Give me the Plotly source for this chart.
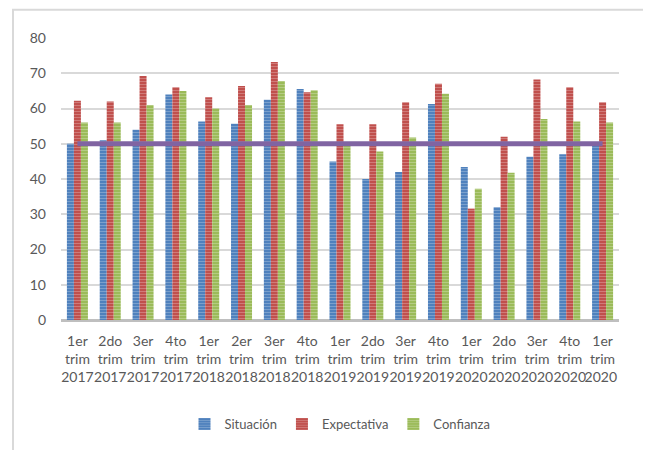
import plotly.graph_objects as go

categories = ["1er<br>trim<br>2017", "2do<br>trim<br>2017", "3er<br>trim<br>2017", "4to<br>trim<br>2017",
              "1er<br>trim<br>2018", "2er<br>trim<br>2018", "3er<br>trim<br>2018", "4to<br>trim<br>2018",
              "1er<br>trim<br>2019", "2do<br>trim<br>2019", "3er<br>trim<br>2019", "4to<br>trim<br>2019",
              "1er<br>trim<br>2020", "2do<br>trim<br>2020", "3er<br>trim<br>2020", "4to<br>trim<br>2020",
              "1er<br>trim<br>2020 "]
situacion = [50, 51, 54, 64, 56.3, 55.7, 62.5, 65.5, 45, 40, 42, 61.3, 43.4, 32, 46.3, 47, 49.7]
expectativa = [62.2, 62, 69.2, 66, 63.2, 66.4, 73.2, 64.6, 55.5, 55.5, 61.8, 67, 31.6, 52, 68.2, 66, 61.8]
confianza = [56, 56, 61, 65, 60, 61, 67.8, 65.2, 49.5, 47.8, 51.8, 64.2, 37.2, 41.8, 57, 56.3, 56]
threshold = [50] * len(categories)

font_fam = "Lato, 'Open Sans', sans-serif"
grey = "#595959"

fig = go.Figure()
for name, vals, col in [("Situación", situacion, "#4F81BD"),
                        ("Expectativa", expectativa, "#C0504D"),
                        ("Confianza", confianza, "#9BBB59")]:
    fig.add_trace(go.Bar(
        x=categories, y=vals, name=name,
        marker=dict(color=col, line=dict(width=0),
                    pattern=dict(shape="-", fgcolor="rgba(255,255,255,0.55)", size=3, solidity=0.3)),
    ))
fig.add_trace(go.Scatter(x=categories, y=threshold, mode="lines",
                         line=dict(color="#8064A2", width=5), showlegend=False, hoverinfo="skip"))

fig.update_layout(
    width=643, height=442,
    margin=dict(l=53, r=32, t=30, b=129),
    paper_bgcolor="white", plot_bgcolor="white",
    barmode="group", bargap=0.36, bargroupgap=0,
    font=dict(family=font_fam, size=14, color=grey),
    showlegend=True,
    legend=dict(orientation="h", x=0.5, xanchor="center", y=-0.364, yanchor="middle",
                font=dict(size=13, color=grey), itemwidth=30, traceorder="normal"),
    xaxis=dict(showgrid=False, showline=False, ticks="", tickfont=dict(size=14, color=grey),
               tickangle=0, ticklabelstandoff=11),
    yaxis=dict(range=[0, 80], dtick=10, showgrid=True, gridcolor="#D9D9D9", gridwidth=2,
               zeroline=True, zerolinecolor="#BFBFBF", zerolinewidth=3,
               ticks="", tickfont=dict(size=14, color=grey), ticklabelstandoff=14),
    shapes=[dict(type="rect", xref="paper", yref="paper", x0=-0.086, x1=1.052, y0=-0.6, y1=1.10,
                 line=dict(color="#D9D9D9", width=2), fillcolor="rgba(0,0,0,0)", layer="below")],
)

fig.write_html("out.html")
